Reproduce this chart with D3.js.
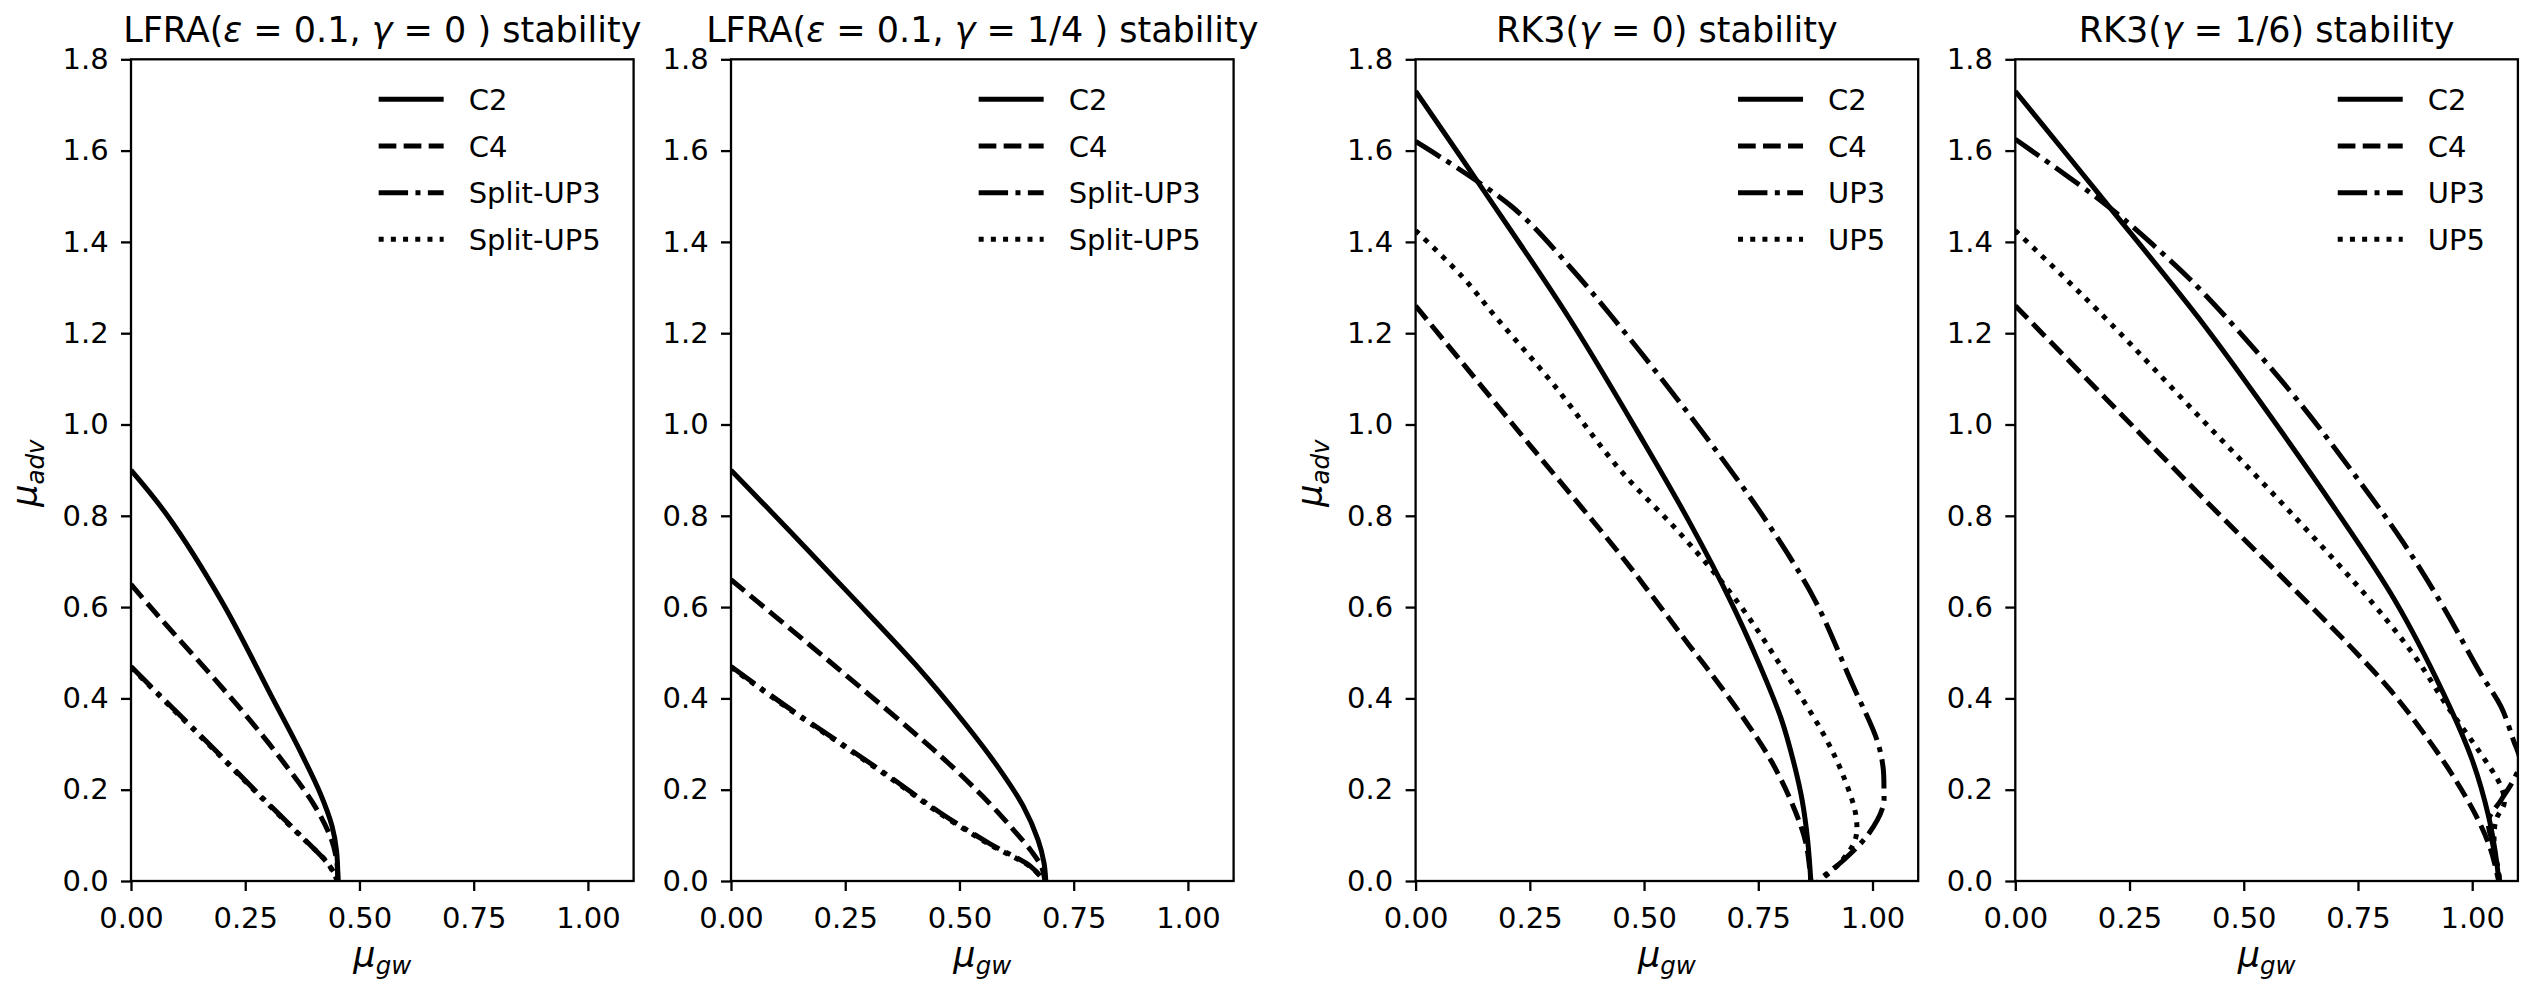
<!DOCTYPE html>
<html><head><meta charset="utf-8">
<script src="https://cdn.jsdelivr.net/npm/d3@7"></script>
<style>
body{margin:0;background:#fff}
text{font-family:"DejaVu Sans",sans-serif;fill:#000}
</style>
</head><body>
<svg id="c" width="2541" height="981"></svg>
<script>
// ---------------- data ----------------
const xTicks = [0, 0.25, 0.5, 0.75, 1.0];
const xTickLabels = ["0.00", "0.25", "0.50", "0.75", "1.00"];
const yTicks = [0, 0.2, 0.4, 0.6, 0.8, 1.0, 1.2, 1.4, 1.6, 1.8];
const yTickLabels = ["0.0", "0.2", "0.4", "0.6", "0.8", "1.0", "1.2", "1.4", "1.6", "1.8"];

const titles = [
  "LFRA(ε = 0.1, γ = 0 ) stability",
  "LFRA(ε = 0.1, γ = 1/4 ) stability",
  "RK3(γ = 0) stability",
  "RK3(γ = 1/6) stability"
];
const legendLFRA = ["C2", "C4", "Split-UP3", "Split-UP5"];
const legendRK3 = ["C2", "C4", "UP3", "UP5"];

// Panel 1: LFRA(eps=0.1, gamma=0)
const lfra0_C2 = [[0,0.90],[0.08,0.80],[0.2,0.61],[0.31,0.40],[0.37,0.285],[0.415,0.19],[0.44,0.12],[0.45,0.065],[0.453,0]];
const lfra0_C4 = [[0,0.65],[0.04,0.603],[0.094,0.542],[0.185,0.44],[0.258,0.355],[0.33,0.265],[0.403,0.163],[0.439,0.09],[0.45,0.045],[0.453,0]];
const lfra0_UP3 = [[0,0.47],[0.085,0.385],[0.185,0.286],[0.294,0.176],[0.385,0.086],[0.425,0.045],[0.448,0.012],[0.452,0]];
const lfra0_UP5 = [[0,0.468],[0.085,0.383],[0.185,0.284],[0.294,0.174],[0.385,0.085],[0.425,0.046],[0.445,0.015],[0.451,0]];

// Panel 2: LFRA(eps=0.1, gamma=1/4)
const lfra4_C2 = [[0,0.90],[0.13,0.765],[0.258,0.63],[0.403,0.475],[0.512,0.345],[0.584,0.25],[0.639,0.165],[0.672,0.09],[0.685,0.04],[0.689,0]];
const lfra4_C4 = [[0,0.66],[0.1,0.577],[0.2,0.494],[0.3,0.41],[0.4,0.325],[0.476,0.258],[0.566,0.17],[0.62,0.11],[0.657,0.066],[0.68,0.03],[0.687,0]];
const lfra4_UP3 = [[0,0.47],[0.122,0.382],[0.24,0.302],[0.348,0.228],[0.457,0.15],[0.566,0.082],[0.657,0.031],[0.685,0]];
const lfra4_UP5 = [[0,0.468],[0.122,0.38],[0.24,0.30],[0.348,0.226],[0.457,0.148],[0.566,0.08],[0.657,0.03],[0.686,0]];

// Panel 3: RK3(gamma=0)
const rk0_C2 = [[0,1.73],[0.148,1.514],[0.338,1.23],[0.5,0.96],[0.6,0.785],[0.688,0.616],[0.75,0.48],[0.801,0.353],[0.83,0.25],[0.846,0.177],[0.858,0.09],[0.865,0]];
const rk0_C4 = [[0,1.26],[0.25,0.955],[0.448,0.715],[0.524,0.616],[0.6,0.515],[0.644,0.458],[0.714,0.362],[0.78,0.26],[0.83,0.155],[0.855,0.08],[0.865,0]];
const rk0_UP3 = [[0,1.62],[0.211,1.477],[0.338,1.345],[0.447,1.215],[0.55,1.085],[0.66,0.94],[0.77,0.785],[0.8735,0.616],[0.955,0.433],[1.0097,0.309],[1.023,0.25],[1.025,0.2],[1.023,0.163],[0.992,0.104],[0.937,0.046],[0.901,0.017],[0.88,0]];
const rk0_UP5 = [[0,1.425],[0.102,1.324],[0.175,1.236],[0.3,1.09],[0.448,0.90],[0.58,0.76],[0.701,0.616],[0.801,0.469],[0.892,0.323],[0.937,0.228],[0.964,0.141],[0.962,0.09],[0.928,0.039],[0.883,0]];

// Panel 4: RK3(gamma=1/6)
const rk6_C2 = [[0,1.73],[0.195,1.49],[0.41,1.222],[0.55,1.03],[0.7,0.815],[0.83,0.616],[0.937,0.411],[1.0,0.265],[1.036,0.141],[1.053,0.046],[1.058,0]];
const rk6_C4 = [[0,1.26],[0.2,1.055],[0.4,0.85],[0.642,0.607],[0.732,0.515],[0.821,0.418],[0.893,0.325],[0.955,0.235],[1.01,0.14],[1.04,0.07],[1.058,0]];
const rk6_UP3 = [[0,1.625],[0.195,1.484],[0.3,1.395],[0.41,1.29],[0.6,1.075],[0.75,0.88],[0.85,0.74],[0.937,0.6],[1.018,0.455],[1.063,0.382],[1.09,0.309],[1.105,0.26],[1.09,0.221],[1.063,0.177],[1.036,0.134],[1.045,0.08],[1.058,0.02],[1.06,0]];
const rk6_UP5 = [[0,1.425],[0.105,1.324],[0.208,1.222],[0.4,1.02],[0.6,0.81],[0.785,0.605],[0.875,0.491],[0.946,0.382],[1.018,0.28],[1.063,0.207],[1.07,0.17],[1.052,0.134],[1.048,0.08],[1.055,0.03],[1.06,0]];

const panelSeries = [
  [lfra0_C2, lfra0_C4, lfra0_UP3, lfra0_UP5],
  [lfra4_C2, lfra4_C4, lfra4_UP3, lfra4_UP5],
  [rk0_C2, rk0_C4, rk0_UP3, rk0_UP5],
  [rk6_C2, rk6_C4, rk6_UP3, rk6_UP5]
];
const panelLegends = [legendLFRA, legendLFRA, legendRK3, legendRK3];
const showYLabel = [true, false, true, false];

// ---------------- layout / style ----------------
const svg = d3.select("#c");
const panelLeft = [131, 731, 1415.6, 2015.3];
const panelW = 502.6, axTop = 59.3, axBottom = 881;
const LW = 5;
const dashes = [null, "17.7,7.3", "29.4,7.4,5,7.4", "5,7.2"];
const FS = 29, TFS = 35, LFS = 35, SFS = 24.5;

function mathText(sel, str) {
  const parts = str.split(/([εγμ])/);
  parts.forEach(p => {
    if (!p) return;
    const t = sel.append("tspan").text(p);
    if (/[εγμ]/.test(p)) t.attr("font-style", "italic");
  });
}

panelSeries.forEach((series, i) => {
  const x = d3.scaleLinear().domain([0, 1.1]).range([panelLeft[i], panelLeft[i] + panelW]);
  const y = d3.scaleLinear().domain([0, 1.8]).range([axBottom, axTop]);
  const g = svg.append("g");

  const clipId = "clip" + i;
  svg.append("clipPath").attr("id", clipId).append("rect")
    .attr("x", x(0)).attr("y", y(1.8)).attr("width", x(1.1) - x(0)).attr("height", y(0) - y(1.8));

  const line = d3.line().x(d => x(d[0])).y(d => y(d[1])).curve(d3.curveCatmullRom.alpha(0.5));
  const cg = g.append("g").attr("clip-path", `url(#${clipId})`);
  series.forEach((s, k) => {
    cg.append("path").attr("d", line(s)).attr("fill", "none").attr("stroke", "#000")
      .attr("stroke-width", LW).attr("stroke-linecap", "butt").attr("stroke-linejoin", "round")
      .attr("stroke-dasharray", dashes[k]);
  });

  const xa = d3.axisBottom(x).tickValues(xTicks).tickFormat((d, j) => xTickLabels[j])
    .tickSize(10).tickSizeOuter(0).tickPadding(16.4);
  const ya = d3.axisLeft(y).tickValues(yTicks).tickFormat((d, j) => yTickLabels[j])
    .tickSize(10).tickSizeOuter(0).tickPadding(12.4);
  const gx = g.append("g").attr("transform", `translate(0,${axBottom})`).call(xa);
  const gy = g.append("g").attr("transform", `translate(${panelLeft[i]},0)`).call(ya);
  [gx, gy].forEach(a => {
    a.select(".domain").remove();
    a.selectAll(".tick line").attr("stroke", "#000").attr("stroke-width", 2.3);
    a.selectAll(".tick text").attr("font-size", FS).attr("font-family", "DejaVu Sans").attr("fill", "#000");
  });

  g.append("rect").attr("x", x(0)).attr("y", y(1.8)).attr("width", x(1.1) - x(0)).attr("height", y(0) - y(1.8))
    .attr("fill", "none").attr("stroke", "#000").attr("stroke-width", 2.3);

  const cx = (x(0) + x(1.1)) / 2;
  const tt = g.append("text").attr("x", cx).attr("y", 42).attr("text-anchor", "middle").attr("font-size", TFS);
  mathText(tt, titles[i]);

  const xl = g.append("text").attr("x", cx).attr("y", 967).attr("text-anchor", "middle").attr("font-size", LFS);
  xl.append("tspan").attr("font-style", "italic").text("μ");
  xl.append("tspan").attr("font-style", "italic").attr("font-size", SFS).attr("dy", 7).text("gw");

  if (showYLabel[i]) {
    const cy = (axTop + axBottom) / 2 + 3;
    const yl = g.append("text").attr("transform", `translate(${panelLeft[i] - 94},${cy}) rotate(-90)`)
      .attr("text-anchor", "middle").attr("font-size", LFS);
    yl.append("tspan").attr("font-style", "italic").text("μ");
    yl.append("tspan").attr("font-style", "italic").attr("font-size", SFS).attr("dy", 7).text("adv");
  }

  const labels = panelLegends[i];
  const lg = g.append("g");
  const texts = labels.map(lab => lg.append("text").attr("font-size", FS).text(lab));
  const maxW = d3.max(texts, t => t.node().getComputedTextLength());
  const right = x(1.1);
  const lineStart = right - 33 - maxW - 24 - 66;
  const rowY = [99.3, 146, 192.7, 239.3];
  labels.forEach((lab, k) => {
    lg.append("line").attr("x1", lineStart).attr("x2", lineStart + 65).attr("y1", rowY[k]).attr("y2", rowY[k])
      .attr("stroke", "#000").attr("stroke-width", LW).attr("stroke-linecap", "butt")
      .attr("stroke-dasharray", dashes[k]);
    texts[k].attr("x", lineStart + 90).attr("y", rowY[k] + 10.6);
  });
});
</script>
</body></html>
